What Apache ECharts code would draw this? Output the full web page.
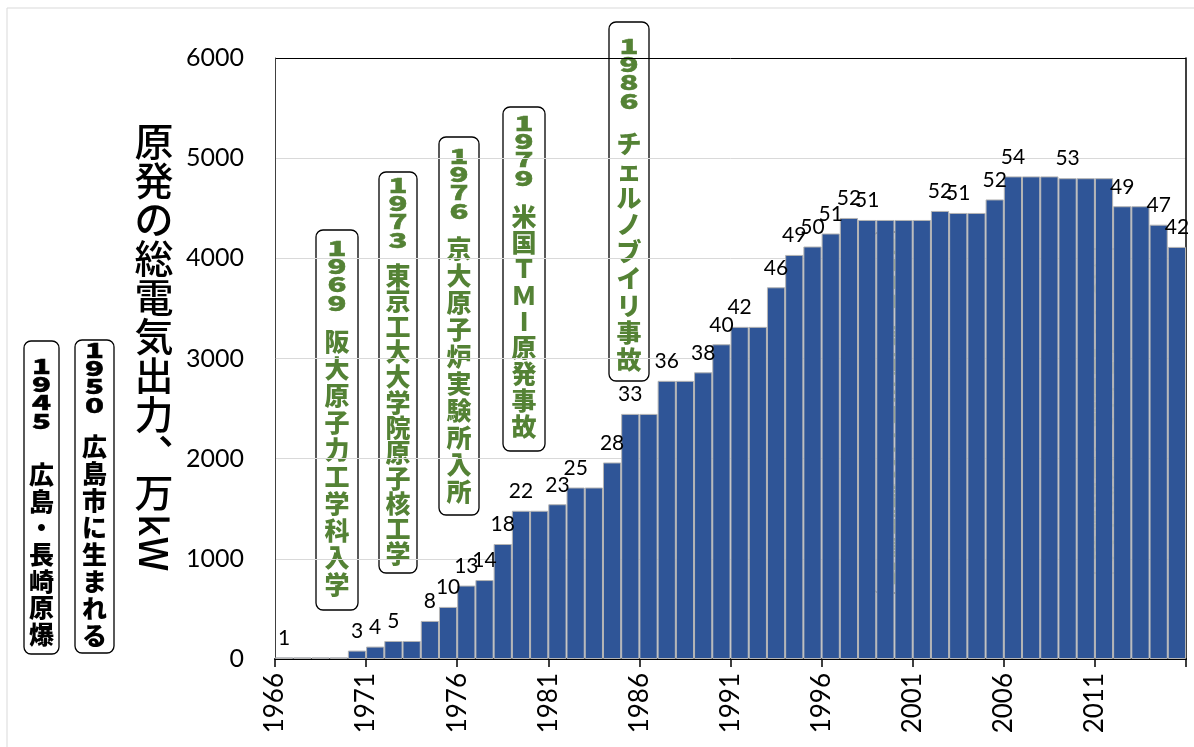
<!DOCTYPE html>
<html>
<head>
<meta charset="utf-8">
<script src="https://cdn.jsdelivr.net/npm/echarts@6/dist/echarts.min.js"></script>
<style>
  html, body { margin: 0; padding: 0; background: #ffffff; }
  #chart { width: 1194px; height: 747px; }
</style>
</head>
<body>
<div id="chart"></div>
<script>
// Fiscal years shown as bars
const years = [
  '1966','1967','1968','1969','1970','1971','1972','1973','1974','1975',
  '1976','1977','1978','1979','1980','1981','1982','1983','1984','1985',
  '1986','1987','1988','1989','1990','1991','1992','1993','1994','1995',
  '1996','1997','1998','1999','2000','2001','2002','2003','2004','2005',
  '2006','2007','2008','2009','2010','2011','2012','2013','2014','2015'
];

// Total installed nuclear capacity, 万kW
const capacity = [
    17,   17,   17,   17,   84,  124,  180,  180,  380,  520,
   733,  788, 1148, 1480, 1480, 1545, 1712, 1712, 1962, 2447,
  2447, 2777, 2777, 2862, 3142, 3316, 3316, 3711, 4034, 4118,
  4248, 4403, 4383, 4383, 4383, 4383, 4473, 4453, 4453, 4588,
  4818, 4818, 4818, 4800, 4800, 4800, 4520, 4520, 4336, 4114
];

// Number of reactors, written above the bar in the years it changed
const reactorCounts = [
     1, null, null, null,    3,    4,    5, null,    8,   10,
    13,   14,   18,   22, null,   23,   25, null,   28,   33,
  null,   36, null,   38,   40,   42, null,   46,   49,   50,
    51,   52,   51, null, null, null,   52,   51, null,   52,
    54, null, null,   53, null, null,   49, null,   47,   42
];

// Year boundaries for the bottom axis (labelled every 5 years)
const axisYears = [
  '1966','1967','1968','1969','1970','1971','1972','1973','1974','1975',
  '1976','1977','1978','1979','1980','1981','1982','1983','1984','1985',
  '1986','1987','1988','1989','1990','1991','1992','1993','1994','1995',
  '1996','1997','1998','1999','2000','2001','2002','2003','2004','2005',
  '2006','2007','2008','2009','2010','2011','2012','2013','2014','2015',
  '2016'
];

// Personal milestones and accidents
const eventYears = ['1945', '1950', '1969', '1973', '1976', '1979', '1986', '1999', '2011'];
const eventTexts = [
  '広島・長崎原爆',
  '広島市に生まれる',
  '阪大原子力工学科入学',
  '東京工大大学院原子核工学',
  '京大原子炉実験所入所',
  '米国ＴＭI原発事故',
  'チェルノブイリ事故',
  '東海村ＪＣＯ臨界事故',
  '福島第１原発事故'
];

const GREEN = '#548235';
const eventColors = ['#000000', '#000000', GREEN, GREEN, GREEN, GREEN, GREEN, GREEN, GREEN];

// Callout boxes: left, width, top, bottom, first-digit top, first-character top, character pitch
const boxLayout = [
  { x: 24,  w: 35, top: 341, bottom: 654, d: 358, c: 463, p: 26.7 },
  { x: 75,  w: 39, top: 340, bottom: 653, d: 342, c: 435, p: 27.0 },
  { x: 316, w: 42, top: 230, bottom: 610, d: 240, c: 330, p: 27.0 },
  { x: 379, w: 38, top: 172, bottom: 573, d: 177, c: 265, p: 25.3 },
  { x: 439, w: 40, top: 137, bottom: 515, d: 148, c: 237, p: 27.0 },
  { x: 503, w: 42, top: 107, bottom: 451, d: 115, c: 205, p: 26.3 },
  { x: 609, w: 40, top: 22,  bottom: 381, d: 38,  c: 132, p: 27.0 },
  { x: 873, w: 35, top: 232, bottom: 593, d: 238, c: 325, p: 26.5 },
  { x: 1081, w: 43, top: 249, bottom: 573, d: 262, c: 350, p: 26.7 }
];

const CJK = '"Noto Sans CJK JP", "Noto Sans CJK SC", sans-serif';
const LATIN = 'Lato, "Open Sans", sans-serif';

function stack(s) {
  return Array.from(s).join('\n');
}

function calloutBox(i) {
  const b = boxLayout[i];
  const cx = b.x + b.w / 2;
  const color = eventColors[i];
  return {
    type: 'group',
    z: 100,
    silent: true,
    children: [
      {
        type: 'rect',
        shape: { x: b.x, y: b.top, width: b.w, height: b.bottom - b.top, r: 7 },
        style: { fill: '#ffffff', stroke: '#000000', lineWidth: 1.3 }
      },
      {
        // year digits, stacked and slightly squat
        type: 'text',
        x: cx, y: b.d - 1.5,
        scaleX: 1.2,
        scaleY: 0.8,
        style: {
          text: stack(eventYears[i]),
          font: '900 26px ' + CJK,
          lineHeight: 23,
          textAlign: 'center', textVerticalAlign: 'top',
          fill: color,
          stroke: color, lineWidth: 0.6
        }
      },
      {
        type: 'text',
        x: cx, y: b.c - 2,
        style: {
          text: stack(eventTexts[i]),
          font: '900 25px ' + CJK,
          lineHeight: b.p,
          textAlign: 'center', textVerticalAlign: 'top',
          fill: color
        }
      }
    ]
  };
}

const gridLineColors = ['#d9d9d9', '#d9d9d9', '#d9d9d9', '#d9d9d9', '#d9d9d9', '#d9d9d9', '#000000'];

const graphics = [
  {
    type: 'rect', z: -10, silent: true,
    shape: { x: 7, y: 8, width: 1220, height: 780 },
    style: { fill: 'none', stroke: '#d9d9d9', lineWidth: 1 }
  },
  {
    type: 'text', z: 100, silent: true,
    x: 154, y: 122,
    style: {
      text: stack('原発の総電気出力︑万'),
      font: '500 39px ' + CJK,
      lineHeight: 39,
      textAlign: 'center', textVerticalAlign: 'top',
      fill: '#000000'
    }
  },
  {
    type: 'text', z: 100, silent: true,
    x: 154, y: 514,
    rotation: -Math.PI / 2,
    style: {
      text: 'kW',
      font: '500 39px ' + CJK,
      textAlign: 'left', textVerticalAlign: 'middle',
      fill: '#000000'
    }
  }
];
for (let i = 0; i < eventYears.length; i++) graphics.push(calloutBox(i));

const chart = echarts.init(document.getElementById('chart'), null, { renderer: 'canvas' });

chart.setOption({
  animation: false,
  backgroundColor: '#ffffff',
  grid: { left: 275, right: 8, top: 58, bottom: 88 },
  xAxis: [
    {
      type: 'category',
      data: years,
      boundaryGap: true,
      show: false
    },
    {
      type: 'category',
      data: axisYears,
      boundaryGap: false,
      position: 'bottom',
      axisLine: { show: true, lineStyle: { color: '#000000', width: 2 } },
      axisTick: { show: true, interval: 4, length: 8, lineStyle: { color: '#000000', width: 1.5 } },
      axisLabel: {
        interval: 4, rotate: 90, margin: 14,
        fontSize: 26, fontFamily: LATIN, color: '#000000',
        formatter: v => (v === '2016' ? '' : v)
      },
      splitLine: { show: false }
    }
  ],
  yAxis: [
    {
      type: 'value', min: 0, max: 6000, interval: 1000,
      axisLine: { show: true, lineStyle: { color: '#404040', width: 1 } },
      axisTick: { show: false },
      axisLabel: {
        fontSize: 25, margin: 31, color: '#000000', fontFamily: LATIN,
        formatter: v => String(v)
      },
      splitLine: { show: true, lineStyle: { color: gridLineColors, width: 1 } }
    },
    {
      type: 'value', min: 0, max: 6000, interval: 1000, position: 'right',
      axisLine: { show: true, lineStyle: { color: '#000000', width: 1.5 } },
      axisTick: { show: false },
      axisLabel: { show: false },
      splitLine: { show: false }
    }
  ],
  series: [
    {
      type: 'bar',
      xAxisIndex: 0,
      yAxisIndex: 0,
      barCategoryGap: '0%',
      data: capacity.map((v, i) => ({ value: v, label: { show: reactorCounts[i] !== null } })),
      itemStyle: { color: '#2F5597', borderColor: '#B4B4B4', borderWidth: 1 },
      label: {
        position: 'top', distance: 9,
        fontSize: 21, fontFamily: LATIN, color: '#000000',
        formatter: p => (reactorCounts[p.dataIndex] === null ? '' : String(reactorCounts[p.dataIndex]))
      }
    }
  ],
  graphic: graphics
});
</script>
</body>
</html>
